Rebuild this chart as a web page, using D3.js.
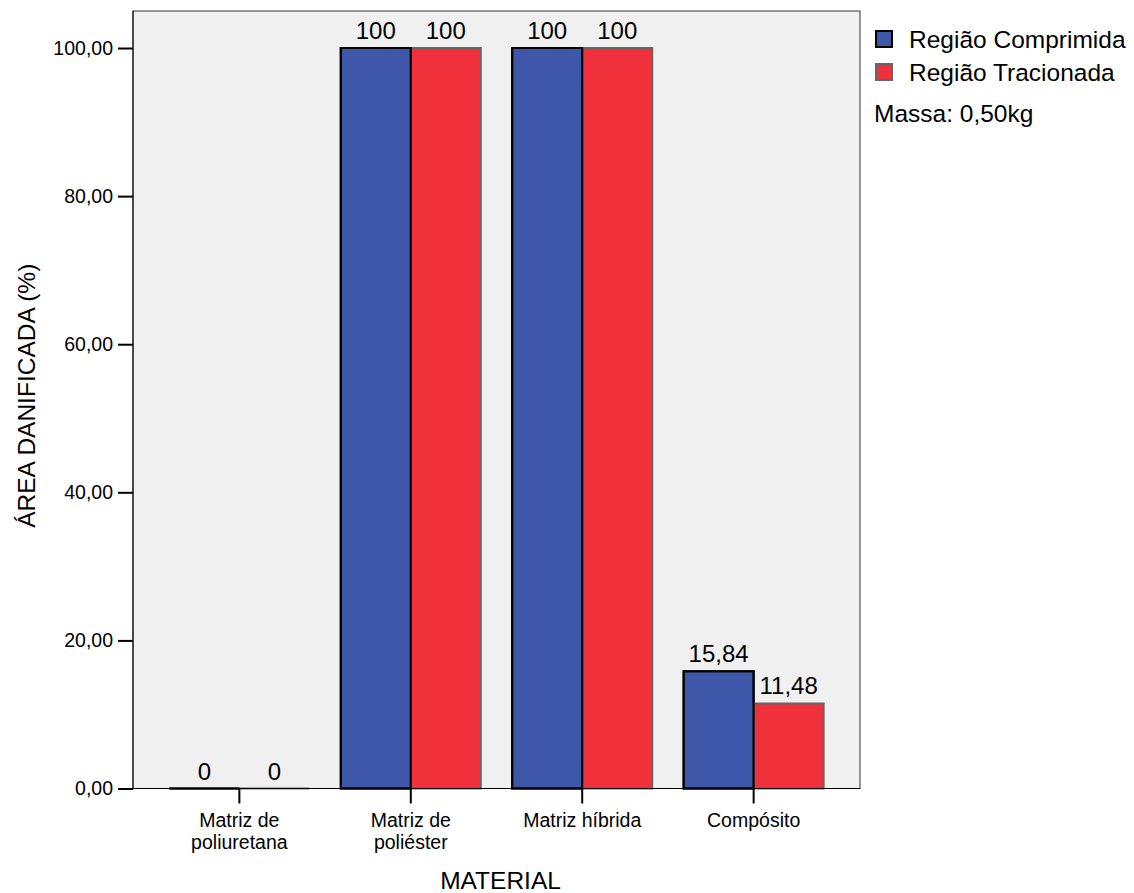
<!DOCTYPE html>
<html>
<head>
<meta charset="utf-8">
<script src="https://cdn.jsdelivr.net/npm/d3@7"></script>
<style>
  html, body { margin: 0; padding: 0; background: #fff; }
  svg { display: block; font-family: "Liberation Sans", Arial, Helvetica, sans-serif; }
</style>
</head>
<body>
<svg id="chart" width="1134" height="893"></svg>
<script>
// ---- data ----
const categories = ["Matriz de poliuretana", "Matriz de poliéster", "Matriz híbrida", "Compósito"];
const categoryLines = [["Matriz de", "poliuretana"], ["Matriz de", "poliéster"], ["Matriz híbrida"], ["Compósito"]];
const seriesNames = ["Região Comprimida", "Região Tracionada"];
const compressedValues = [0, 100, 100, 15.84];
const tensionedValues = [0, 100, 100, 11.48];
const valueLabels = [["0", "100", "100", "15,84"], ["0", "100", "100", "11,48"]];
const yTicks = [0, 20, 40, 60, 80, 100];
const noteText = "Massa: 0,50kg";
const xTitle = "MATERIAL";
const yTitle = "ÁREA DANIFICADA (%)";

// ---- styles ----
const fills = ["#3f57a9", "#f0303a"];
const strokes = ["#000000", "#666666"];

(function () {
const svg = d3.select("#chart");
const pLeft = 133, pRight = 860, pTop = 11, pBottom = 788.5;

const x = d3.scaleBand().domain(categories).range([pLeft, pRight]).paddingInner(0.183).paddingOuter(0.212);
const xs = d3.scaleBand().domain(seriesNames).range([0, x.bandwidth()]).padding(0);
const y = d3.scaleLinear().domain([0, 105]).range([pBottom, pTop]);

const locale = d3.formatLocale({decimal: ",", thousands: ".", grouping: [3], currency: ["", ""]});
const fmt = locale.format(".2f");

// plot background
svg.append("rect")
  .attr("x", pLeft).attr("y", pTop)
  .attr("width", pRight - pLeft).attr("height", pBottom - pTop)
  .attr("fill", "#f0f0f0")
  .attr("stroke", "#333").attr("stroke-width", 1);

const seriesData = [compressedValues, tensionedValues];
const barPath = (si) => (c, i) => {
  const x0 = x(c) + xs(seriesNames[si]);
  const x1 = x0 + xs.bandwidth();
  const y0 = y(0), y1 = y(seriesData[si][i]);
  return `M${x0},${y0}V${y1}H${x1}V${y0}Z`;
};

// bars
seriesData.forEach((vals, si) => {
  svg.append("g").selectAll("path").data(categories).join("path")
    .attr("d", barPath(si))
    .attr("fill", fills[si])
    .attr("stroke", strokes[si])
    .attr("stroke-width", 2);
});
// compressed outlines on top of shared edge
svg.append("g").selectAll("path").data(categories).join("path")
  .attr("d", barPath(0))
  .attr("fill", "none").attr("stroke", strokes[0]).attr("stroke-width", 2);

// value labels
seriesData.forEach((vals, si) => {
  svg.append("g").selectAll("text").data(categories).join("text")
    .attr("x", c => x(c) + xs(seriesNames[si]) + xs.bandwidth() / 2)
    .attr("y", (c, i) => y(vals[i]) - 9)
    .attr("text-anchor", "middle")
    .attr("font-size", 24)
    .attr("fill", "#000")
    .text((c, i) => valueLabels[si][i]);
});

// y axis
const yAxis = d3.axisLeft(y).tickValues(yTicks).tickSize(15).tickPadding(5).tickFormat(d => fmt(d));
const ya = svg.append("g").attr("transform", `translate(${pLeft},0)`).call(yAxis);
ya.select(".domain").attr("stroke", "#000").attr("d", `M0,${pTop}V${pBottom}`);
ya.selectAll(".tick line").attr("stroke", "#000").attr("stroke-width", 2);
ya.selectAll(".tick text").attr("font-size", 19.5).attr("font-family", "Liberation Sans, Arial, sans-serif").attr("fill", "#000");

// x axis
const xa = svg.append("g").attr("transform", `translate(0,${pBottom})`)
  .call(d3.axisBottom(x).tickSize(15).tickFormat(""));
xa.select(".domain").attr("stroke", "#000").attr("d", `M${pLeft},0H${pRight}`);
xa.selectAll(".tick line").attr("stroke", "#000").attr("stroke-width", 2);
xa.selectAll(".tick").each(function (c, i) {
  const t = d3.select(this).append("text")
    .attr("text-anchor", "middle").attr("font-size", 19.5).attr("fill", "#000")
    .attr("font-family", "Liberation Sans, Arial, sans-serif");
  categoryLines[i].forEach((ln, k) => {
    t.append("tspan").attr("x", 0).attr("y", 38 + k * 22).text(ln);
  });
});

// axis titles
svg.append("text")
  .attr("x", (pLeft + pRight) / 2 + 4).attr("y", 889)
  .attr("text-anchor", "middle").attr("font-size", 24.5).attr("fill", "#000")
  .text(xTitle);
svg.append("text")
  .attr("transform", `translate(35,${(pTop + pBottom) / 2 - 4}) rotate(-90)`)
  .attr("text-anchor", "middle").attr("font-size", 24.5).attr("fill", "#000")
  .text(yTitle);

// legend
const leg = svg.append("g");
seriesNames.forEach((s, i) => {
  const yy = 31 + i * 33;
  leg.append("rect").attr("x", 876).attr("y", yy).attr("width", 16).attr("height", 16)
    .attr("fill", fills[i]).attr("stroke", strokes[i]).attr("stroke-width", 2);
  leg.append("text").attr("x", 909).attr("y", yy + 17).attr("font-size", 24.5).attr("fill", "#000").text(s);
});
leg.append("text").attr("x", 874).attr("y", 122).attr("font-size", 24.5).attr("fill", "#000").text(noteText);
})();
</script>
</body>
</html>
